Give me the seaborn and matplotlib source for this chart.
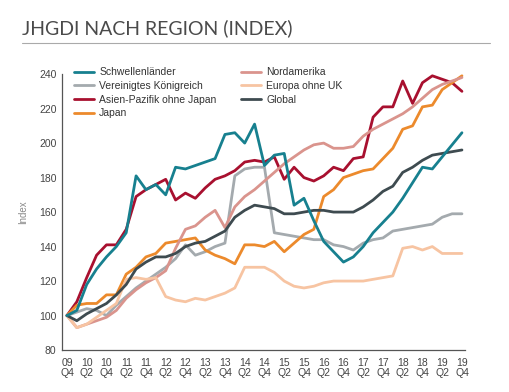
import numpy as np
import pandas as pd
import matplotlib
matplotlib.use('Agg')
import matplotlib.pyplot as plt
import seaborn as sns

# Quartale 09 Q4 .. 19 Q4 (41 Werte), Beschriftung jedes 2. Quartal
quartal_labels = ['09\nQ4', '10\nQ2', '10\nQ4', '11\nQ2', '11\nQ4', '12\nQ2', '12\nQ4',
                  '13\nQ2', '13\nQ4', '14\nQ2', '14\nQ4', '15\nQ2', '15\nQ4', '16\nQ2',
                  '16\nQ4', '17\nQ2', '17\nQ4', '18\nQ2', '18\nQ4', '19\nQ2', '19\nQ4']

schwellen = [100, 103, 118, 127, 134, 140, 148, 181, 173, 176, 170, 186, 185, 187, 189, 191,
             205, 206, 200, 211, 187, 193, 194, 164, 168, 155, 143, 137, 131, 134, 140, 148,
             154, 160, 168, 177, 186, 185, 192, 199, 206]
uk = [100, 102, 104, 103, 100, 106, 111, 116, 120, 124, 128, 133, 141, 135, 137, 140,
      142, 181, 185, 186, 186, 148, 147, 146, 145, 144, 144, 141, 140, 138, 142, 144,
      145, 149, 150, 151, 152, 153, 157, 159, 159]
asien = [100, 108, 122, 135, 141, 141, 150, 169, 173, 176, 179, 167, 171, 168, 174, 179,
         181, 184, 189, 190, 189, 192, 179, 186, 180, 178, 181, 186, 184, 191, 192, 215,
         221, 221, 236, 223, 235, 239, 237, 235, 230]
japan = [100, 106, 107, 107, 112, 112, 124, 128, 134, 136, 142, 143, 144, 145, 138, 135,
         133, 130, 141, 141, 140, 143, 137, 142, 147, 150, 169, 173, 180, 182, 184, 185,
         191, 197, 208, 210, 221, 222, 231, 235, 239]
nordamerika = [100, 93, 95, 97, 99, 103, 110, 115, 119, 122, 126, 139, 150, 152, 157, 161,
               151, 163, 169, 173, 178, 183, 188, 192, 196, 199, 200, 197, 197, 198, 204, 208,
               211, 214, 217, 221, 226, 231, 234, 236, 238]
europa = [100, 93, 95, 99, 103, 107, 121, 122, 121, 122, 111, 109, 108, 110, 109, 111,
          113, 116, 128, 128, 128, 125, 120, 117, 116, 117, 119, 120, 120, 120, 120, 121,
          122, 123, 139, 140, 138, 140, 136, 136, 136]
global_ = [100, 97, 101, 104, 107, 112, 118, 127, 131, 134, 134, 136, 140, 142, 143, 146,
           149, 157, 161, 164, 163, 162, 159, 159, 160, 161, 161, 160, 160, 160, 163, 167,
           172, 175, 183, 186, 190, 193, 194, 195, 196]

regionen = ['Schwellenländer', 'Vereinigtes Königreich', 'Asien-Pazifik ohne Japan', 'Japan',
            'Nordamerika', 'Europa ohne UK', 'Global']
werte = [schwellen, uk, asien, japan, nordamerika, europa, global_]
farben = {'Schwellenländer': '#17808f', 'Vereinigtes Königreich': '#a4aaae',
          'Asien-Pazifik ohne Japan': '#a8102f', 'Japan': '#ec8a2c',
          'Nordamerika': '#da948d', 'Europa ohne UK': '#f7c4a2', 'Global': '#3e4b50'}

df = pd.concat([pd.DataFrame({'t': np.arange(len(v)), 'Index': v, 'Region': r})
                for r, v in zip(regionen, werte)], ignore_index=True)

sns.set_style('white')
plt.rcParams['font.family'] = ['Liberation Sans', 'DejaVu Sans']

fig = plt.figure(figsize=(5.1, 3.92), dpi=100)
ax = fig.add_axes([0.1216, 0.107, 0.79, 0.704])

sns.lineplot(data=df, x='t', y='Index', hue='Region', hue_order=regionen,
             palette=farben, linewidth=2.0, ax=ax)
# Schwellenländer oben
ax.lines[0].set_zorder(5)

ax.set_xlim(-0.5, 40.3)
ax.set_ylim(80, 240)
ax.set_yticks(range(80, 241, 20))
ax.set_xticks(range(0, 41, 2))
ax.set_xticklabels(quartal_labels, linespacing=0.95)
ax.tick_params(axis='both', length=0, labelsize=7.5, colors='#444444', pad=4)
ax.tick_params(axis='x', pad=6)
ax.set_xlabel('')
ax.set_ylabel('Index', fontsize=7, color='#8a8a8a', labelpad=8)
for s in ['top', 'right']:
    ax.spines[s].set_visible(False)
for s in ['left', 'bottom']:
    ax.spines[s].set_color('#555555')
    ax.spines[s].set_linewidth(0.9)

ax.legend(ncol=2, loc='upper left', bbox_to_anchor=(0.02, 1.04), frameon=False,
          fontsize=7.5, handlelength=1.9, handletextpad=0.5, columnspacing=2.4,
          labelspacing=0.35, borderaxespad=0, labelcolor='#333333')

fig.text(0.043, 0.928, 'JHGDI NACH REGION (INDEX)', fontsize=14, color='#4a4a4a',
         family=['Lato', 'DejaVu Sans'], va='center')
fig.add_artist(plt.Line2D([0.043, 0.96], [0.89, 0.89], color='#aaaaaa', linewidth=0.8))

fig.savefig('out.png', dpi=100)
